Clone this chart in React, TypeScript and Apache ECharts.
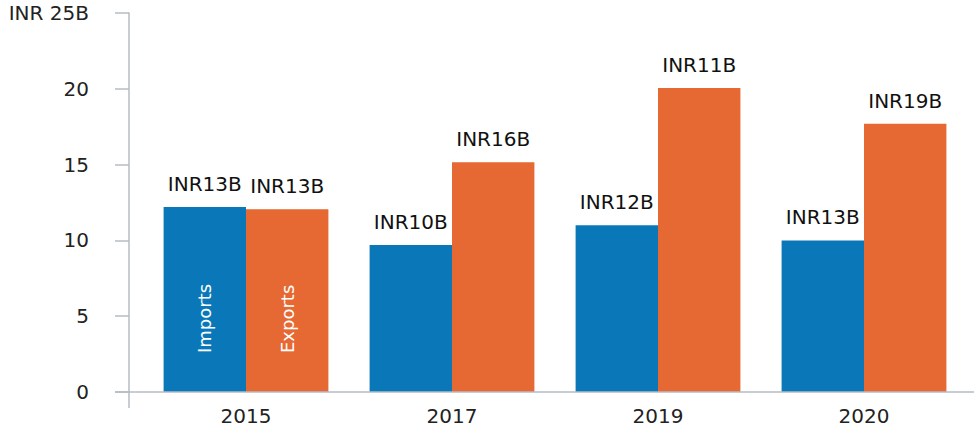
import React, { useEffect, useRef } from "react";
import * as echarts from "echarts";

const categories = ["2015", "2017", "2019", "2020"];
const importsValues = [12.2, 9.7, 11.0, 10.0];
const exportsValues = [12.05, 15.15, 20.05, 17.7];
const importsLabels = ["INR13B", "INR10B", "INR12B", "INR13B"];
const exportsLabels = ["INR13B", "INR16B", "INR11B", "INR19B"];
const seriesNames = ["Imports", "Exports"];
const yMax = 25;
const yInterval = 5;
const topTickLabel = "INR 25B";

const BLUE = "#0a78b8";
const ORANGE = "#e66832";
const AXIS = "#b4bcc4";
const FONT = "DejaVu Sans";

export default function App() {
  const ref = useRef<HTMLDivElement>(null);
  useEffect(() => {
    if (!ref.current) return;
    const chart = echarts.init(ref.current, null, { renderer: "svg" });
    const valueLabel = (labels: string[]) => ({
      show: true,
      position: "top",
      distance: 13,
      formatter: (p: any) => labels[p.dataIndex],
      color: "#111",
      fontFamily: FONT,
      fontSize: 20,
    });
    const nameLabel = (name: string) => ({
      show: true,
      position: "insideBottom",
      distance: 39,
      rotate: 90,
      align: "left",
      verticalAlign: "middle",
      formatter: name,
      color: "#ffffff",
      fontFamily: FONT,
      fontSize: 18,
    });
    const overlayData = (vals: number[], name: string) =>
      vals.map((v, i) => (i === 0 ? { value: v, label: nameLabel(name) } : { value: v, label: { show: false } }));
    chart.setOption({
      animation: false,
      grid: { left: 143, right: 7, top: 13, bottom: 40, containLabel: false },
      xAxis: [
        {
          type: "category",
          data: categories,
          axisLine: { show: false },
          axisTick: { show: false },
          axisLabel: { color: "#222", fontFamily: FONT, fontSize: 20, margin: 14 },
        },
        {
          type: "category",
          data: categories,
          show: false,
        },
      ],
      yAxis: {
        type: "value",
        min: 0,
        max: yMax,
        interval: yInterval,
        offset: 14,
        splitLine: { show: false },
        axisLine: { show: true, lineStyle: { color: AXIS, width: 1.5 } },
        axisTick: { show: true, inside: false, length: 14, lineStyle: { color: AXIS, width: 1.5 } },
        axisLabel: {
          color: "#222",
          fontFamily: FONT,
          fontSize: 20,
          margin: 40,
          formatter: (v: number) => (v === yMax ? topTickLabel : String(v)),
        },
      },
      graphic: [
        { type: "line", shape: { x1: 115, y1: 392, x2: 974, y2: 392 }, style: { stroke: AXIS, lineWidth: 1.5 }, z: 10 },
        { type: "line", shape: { x1: 129, y1: 392, x2: 129, y2: 408 }, style: { stroke: AXIS, lineWidth: 1.5 }, z: 10 },
      ],
      series: [
        {
          name: seriesNames[0],
          type: "bar",
          data: importsValues,
          barGap: "0%",
          barCategoryGap: "20%",
          itemStyle: { color: BLUE },
          label: valueLabel(importsLabels),
        },
        {
          name: seriesNames[1],
          type: "bar",
          data: exportsValues,
          barGap: "0%",
          barCategoryGap: "20%",
          itemStyle: { color: ORANGE },
          label: valueLabel(exportsLabels),
        },
        {
          name: seriesNames[0] + "-label",
          type: "bar",
          xAxisIndex: 1,
          data: overlayData(importsValues, seriesNames[0]),
          barGap: "0%",
          barCategoryGap: "20%",
          itemStyle: { color: "rgba(0,0,0,0)" },
          silent: true,
          z: 5,
        },
        {
          name: seriesNames[1] + "-label",
          type: "bar",
          xAxisIndex: 1,
          data: overlayData(exportsValues, seriesNames[1]),
          barGap: "0%",
          barCategoryGap: "20%",
          itemStyle: { color: "rgba(0,0,0,0)" },
          silent: true,
          z: 5,
        },
      ],
    });
    return () => chart.dispose();
  }, []);
  return <div ref={ref} style={{ width: 974, height: 432, position: "absolute", left: 0, top: 0 }} />;
}
